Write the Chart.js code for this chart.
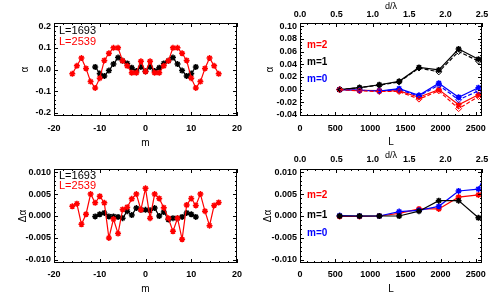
<!DOCTYPE html>
<html><head><meta charset="utf-8">
<script src="https://cdn.jsdelivr.net/npm/chart.js@4.4.0/dist/chart.umd.min.js"></script>
<style>
html,body{margin:0;padding:0;background:#fff;width:491px;height:295px;overflow:hidden;position:relative;}
canvas{position:absolute;left:0;top:0;}
.lab{position:absolute;font-family:"Liberation Sans",Arial,sans-serif;font-size:11px;line-height:11px;white-space:nowrap;}
.lm{font-size:10px;line-height:10px;font-weight:bold;}
</style></head><body>
<canvas id="c1" width="491" height="295"></canvas>
<canvas id="c2" width="491" height="295"></canvas>
<canvas id="c3" width="491" height="295"></canvas>
<canvas id="c4" width="491" height="295"></canvas>
<div class="lab" style="left:59px;top:25px;color:#000">L=1693</div>
<div class="lab" style="left:59px;top:36px;color:#f00">L=2539</div>
<div class="lab" style="left:59px;top:170px;color:#000">L=1693</div>
<div class="lab" style="left:59px;top:180px;color:#f00">L=2539</div>
<div class="lab lm" style="left:307px;top:40px;color:#f00">m=2</div>
<div class="lab lm" style="left:307px;top:57px;color:#000">m=1</div>
<div class="lab lm" style="left:307px;top:74px;color:#00f">m=0</div>
<div class="lab lm" style="left:307px;top:190px;color:#f00">m=2</div>
<div class="lab lm" style="left:307px;top:210px;color:#000">m=1</div>
<div class="lab lm" style="left:307px;top:228px;color:#00f">m=0</div>
<script>
// ---------- data ----------
const mL1693 = [-11,-10,-9,-8,-7,-6,-5,-4,-3,-2,-1,0,1,2,3,4,5,6,7,8,9,10,11];
const mL2539 = [-16,-15,-14,-13,-12,-11,-10,-9,-8,-7,-6,-5,-4,-3,-2,-1,0,1,2,3,4,5,6,7,8,9,10,11,12,13,14,15,16];
const alphaL1693 = [0.012,-0.018,-0.030,-0.005,0.025,0.055,0.040,0.028,0.008,-0.007,0.012,-0.008,0.012,-0.007,0.008,0.028,0.040,0.055,0.025,-0.005,-0.030,-0.018,0.012];
const alphaL2539 = [-0.020,0.017,0.053,0.005,-0.056,-0.085,-0.040,0.042,0.075,0.100,0.100,0.040,0.017,-0.015,-0.015,0.038,-0.010,0.038,-0.015,-0.015,0.017,0.040,0.100,0.100,0.075,0.042,-0.040,-0.085,-0.056,0.005,0.053,0.017,-0.020];
const dAlphaL1693 = [-0.0001,0.0004,0.0007,-0.0001,-0.0001,-0.0002,-0.0005,0.0011,0.0002,0.0018,0.0014,0.0014,0.0013,0.0018,0.0000,0.0009,-0.0008,-0.0005,-0.0005,-0.0002,0.0007,0.0004,-0.0002];
const dAlphaL2539 = [0.0022,0.0028,-0.0019,0.0004,0.0050,0.0030,0.0045,0.0030,-0.0050,-0.0007,-0.0040,0.0015,0.0020,0.0039,0.0050,0.0014,0.0063,-0.0005,0.0050,0.0040,0.0019,-0.0005,-0.0035,-0.0005,-0.0053,0.0025,0.0040,0.0024,0.0050,0.0011,-0.0022,0.0024,0.0031];

const Lvals = [564,847,1129,1411,1693,1975,2257,2539];
const LvalsExt = [564,847,1129,1411,1693,1975,2257,2539,2821];
const alphaM1 = [0.000,0.003,0.0077,0.013,0.035,0.031,0.064,0.048];
const alphaM0 = [0.000,-0.001,-0.0025,0.0015,-0.009,0.010,-0.012,0.003];
const alphaM2 = [0.000,-0.001,-0.0015,-0.002,-0.012,0.000,-0.024,-0.008];
const alphaM1dash = [0.000,0.003,0.007,0.012,0.034,0.028,0.060,0.045];
const alphaM0dash = [0.000,-0.001,-0.002,0.000,-0.010,0.007,-0.016,-0.002];
const alphaM2dash = [0.000,-0.002,-0.003,-0.003,-0.015,-0.002,-0.030,-0.011];
const dAlphaM1 = [0.0000,0.0000,0.0000,0.0000,0.0011,0.0035,0.0035,-0.0004];
const dAlphaM0 = [0.0001,0.0000,0.0000,0.0010,0.0013,0.0022,0.0057,0.0061,0.0160];
const dAlphaM2 = [-0.0001,-0.0001,0.0000,0.0006,0.0016,0.0016,0.0043,0.0048,0.0085];

const mTicks = [-20,-10,0,10,20];
const alphaTicksM = [-0.2,-0.1,0.0,0.1,0.2];
const alphaTicksL = [-0.04,-0.02,0.00,0.02,0.04,0.06,0.08,0.10];
const dAlphaTicks = [-0.010,-0.005,0.000,0.005,0.010];
const LTicks = [0,500,1000,1500,2000,2500];
const dLamTicks = [0.0,0.5,1.0,1.5,2.0,2.5];

// ---------- helpers ----------
Chart.defaults.color = '#000';
Chart.defaults.font.family = '"Liberation Sans", Arial, sans-serif';
const RED='#ff0000', BLUE='#0000ff', BLACK='#000000';
const tickFont = {size:9, weight:'bold', family:'"Liberation Sans Narrow", "Arial Narrow", "Liberation Sans", Arial, sans-serif'};
const titleFont = {size:10};

function pts(xs, ys){ return xs.map((x,i)=>({x:x, y:ys[i]})); }
function fixed(tickArr, size, horiz){
  return {
    afterBuildTicks: s => { s.ticks = tickArr.map(v=>({value:v})); },
    afterFit: s => {
      if (horiz) s.height = size; else s.width = size;
      s.paddingLeft = 0; s.paddingRight = 0; s.paddingTop = 0; s.paddingBottom = 0;
    }
  };
}
function tk(pad, fmt){ return {font:tickFont, padding:pad, maxRotation:0, minRotation:0, autoSkip:false, callback:fmt}; }
function ds(data, color, opts){
  return Object.assign({data:data, borderColor:color, backgroundColor:color, borderWidth:1.2,
    pointStyle:'star', pointRadius:3, pointBorderWidth:1.5, pointBorderColor:color,
    pointBackgroundColor:color, tension:0, fill:false}, opts||{});
}
const boxPlugin = {
  id:'idlbox',
  afterDraw(chart, args, opts){
    const {ctx, chartArea:a} = chart;
    ctx.save();
    ctx.strokeStyle='#000'; ctx.lineWidth=1;
    ctx.strokeRect(Math.round(a.left)+0.5, Math.round(a.top)+0.5, Math.round(a.right-a.left)-1, Math.round(a.bottom-a.top)-1);
    (opts.ticks||[]).forEach(t=>{
      const s = chart.scales[t.id];
      const n0 = Math.ceil((s.min)/t.minor - 1e-6), n1 = Math.floor((s.max)/t.minor + 1e-6);
      for (let n=n0;n<=n1;n++){
        const v = n*t.minor;
        const isMaj = Math.abs(v/t.major - Math.round(v/t.major)) < 1e-6;
        const len = isMaj ? 4 : 2;
        const p = Math.round(s.getPixelForValue(v))+0.5;
        ctx.beginPath();
        t.sides.forEach(side=>{
          if (side==='bottom'){ ctx.moveTo(p,a.bottom); ctx.lineTo(p,a.bottom-len); }
          if (side==='top'){ ctx.moveTo(p,a.top); ctx.lineTo(p,a.top+len); }
          if (side==='left'){ ctx.moveTo(a.left,p); ctx.lineTo(a.left+len,p); }
          if (side==='right'){ ctx.moveTo(a.right,p); ctx.lineTo(a.right-len,p); }
        });
        ctx.stroke();
      }
    });
    ctx.restore();
  }
};
const baseOpts = {responsive:false, animation:false, events:[],
  plugins:{legend:{display:false}, tooltip:{enabled:false}}};
const noGrid = {display:false, drawTicks:false};
const dashOpts = {borderDash:[4,2], pointStyle:'rectRot', pointBackgroundColor:'rgba(0,0,0,0)', pointBorderWidth:1};

// ---------- panel 1: alpha vs m ----------
new Chart(document.getElementById('c1'), {
  type:'line',
  data:{datasets:[
    ds(pts(mL2539, alphaL2539), RED),
    ds(pts(mL1693, alphaL1693), BLACK)
  ]},
  plugins:[boxPlugin],
  options:Object.assign({}, baseOpts, {
    layout:{padding:{left:0, top:23, right:254, bottom:145}},
    plugins:Object.assign({}, baseOpts.plugins, {idlbox:{ticks:[
      {id:'x', major:10, minor:2, sides:['bottom','top']},
      {id:'y', major:0.1, minor:0.02, sides:['left','right']}]}}),
    scales:{
      x:Object.assign({type:'linear', position:'bottom', min:-20, max:20, grid:noGrid, border:{display:false},
        ticks:tk(7, v=>String(v)),
        title:{display:true, text:'m', font:titleFont, padding:{top:0,bottom:1}}}, fixed(mTicks,34,true)),
      y:Object.assign({type:'linear', min:-0.215, max:0.215, grid:noGrid, border:{display:false},
        ticks:tk(3, v=>v.toFixed(1)),
        title:{display:true, text:'α', font:titleFont, padding:{top:19,bottom:0}}}, fixed(alphaTicksM,54,false))
    }
  })
});

// ---------- panel 2: alpha vs L ----------
new Chart(document.getElementById('c2'), {
  type:'line',
  data:{datasets:[
    ds(pts(Lvals, alphaM2dash), RED, dashOpts),
    ds(pts(Lvals, alphaM0dash), BLUE, dashOpts),
    ds(pts(Lvals, alphaM1dash), BLACK, dashOpts),
    ds(pts(Lvals, alphaM1), BLACK),
    ds(pts(Lvals, alphaM0), BLUE),
    ds(pts(Lvals, alphaM2), RED)
  ]},
  plugins:[boxPlugin],
  options:Object.assign({}, baseOpts, {
    layout:{padding:{left:246, top:0, right:9, bottom:145}},
    plugins:Object.assign({}, baseOpts.plugins, {idlbox:{ticks:[
      {id:'x', major:500, minor:100, sides:['bottom']},
      {id:'x2', major:0.5, minor:0.1, sides:['top']},
      {id:'y', major:0.02, minor:0.005, sides:['left','right']}]}}),
    scales:{
      x:Object.assign({type:'linear', position:'bottom', min:0, max:2590, grid:noGrid, border:{display:false},
        ticks:tk(7, v=>String(v)),
        title:{display:true, text:'L', font:titleFont, padding:{top:0,bottom:2}}}, fixed(LTicks,34,true)),
      x2:Object.assign({type:'linear', position:'top', min:0, max:2.5, grid:noGrid, border:{display:false},
        ticks:tk(3, v=>v.toFixed(1)),
        title:{display:true, text:'d/λ', font:{size:9}, padding:{top:1,bottom:0}}}, fixed(dLamTicks,23,true)),
      y:Object.assign({type:'linear', min:-0.0416, max:0.105, grid:noGrid, border:{display:false},
        ticks:tk(3, v=>v.toFixed(2)),
        title:{display:true, text:'α', font:titleFont, padding:{top:18,bottom:0}}}, fixed(alphaTicksL,54,false))
    }
  })
});

// ---------- panel 3: d alpha vs m ----------
new Chart(document.getElementById('c3'), {
  type:'line',
  data:{datasets:[
    ds(pts(mL2539, dAlphaL2539), RED),
    ds(pts(mL1693, dAlphaL1693), BLACK)
  ]},
  plugins:[boxPlugin],
  options:Object.assign({}, baseOpts, {
    layout:{padding:{left:0, top:169, right:254, bottom:0}},
    plugins:Object.assign({}, baseOpts.plugins, {idlbox:{ticks:[
      {id:'x', major:10, minor:2, sides:['bottom','top']},
      {id:'y', major:0.005, minor:0.001, sides:['left','right']}]}}),
    scales:{
      x:Object.assign({type:'linear', position:'bottom', min:-20, max:20, grid:noGrid, border:{display:false},
        ticks:tk(6, v=>String(v)),
        title:{display:true, text:'m', font:titleFont, padding:{top:0,bottom:0}}}, fixed(mTicks,32,true)),
      y:Object.assign({type:'linear', min:-0.0107, max:0.0107, grid:noGrid, border:{display:false},
        ticks:tk(3, v=>v.toFixed(3)),
        title:{display:true, text:'Δα', font:titleFont, padding:{top:17,bottom:0}}}, fixed(dAlphaTicks,54,false))
    }
  })
});

// ---------- panel 4: d alpha vs L ----------
new Chart(document.getElementById('c4'), {
  type:'line',
  data:{datasets:[
    ds(pts(Lvals, dAlphaM1), BLACK),
    ds(pts(LvalsExt, dAlphaM0), BLUE),
    ds(pts(LvalsExt, dAlphaM2), RED)
  ]},
  plugins:[boxPlugin],
  options:Object.assign({}, baseOpts, {
    layout:{padding:{left:246, top:148, right:9, bottom:0}},
    plugins:Object.assign({}, baseOpts.plugins, {idlbox:{ticks:[
      {id:'x', major:500, minor:100, sides:['bottom']},
      {id:'x2', major:0.5, minor:0.1, sides:['top']},
      {id:'y', major:0.005, minor:0.001, sides:['left','right']}]}}),
    scales:{
      x:Object.assign({type:'linear', position:'bottom', min:0, max:2590, grid:noGrid, border:{display:false},
        ticks:tk(6, v=>String(v)),
        title:{display:true, text:'L', font:titleFont, padding:{top:0,bottom:0}}}, fixed(LTicks,32,true)),
      x2:Object.assign({type:'linear', position:'top', min:0, max:2.5, grid:noGrid, border:{display:false},
        ticks:tk(4, v=>v.toFixed(1)),
        title:{display:true, text:'d/λ', font:{size:9}, padding:{top:2,bottom:0}}}, fixed(dLamTicks,21,true)),
      y:Object.assign({type:'linear', min:-0.0107, max:0.0107, grid:noGrid, border:{display:false},
        ticks:tk(3, v=>v.toFixed(3)),
        title:{display:true, text:'Δα', font:titleFont, padding:{top:16,bottom:0}}}, fixed(dAlphaTicks,54,false))
    }
  })
});
</script>
</body></html>
